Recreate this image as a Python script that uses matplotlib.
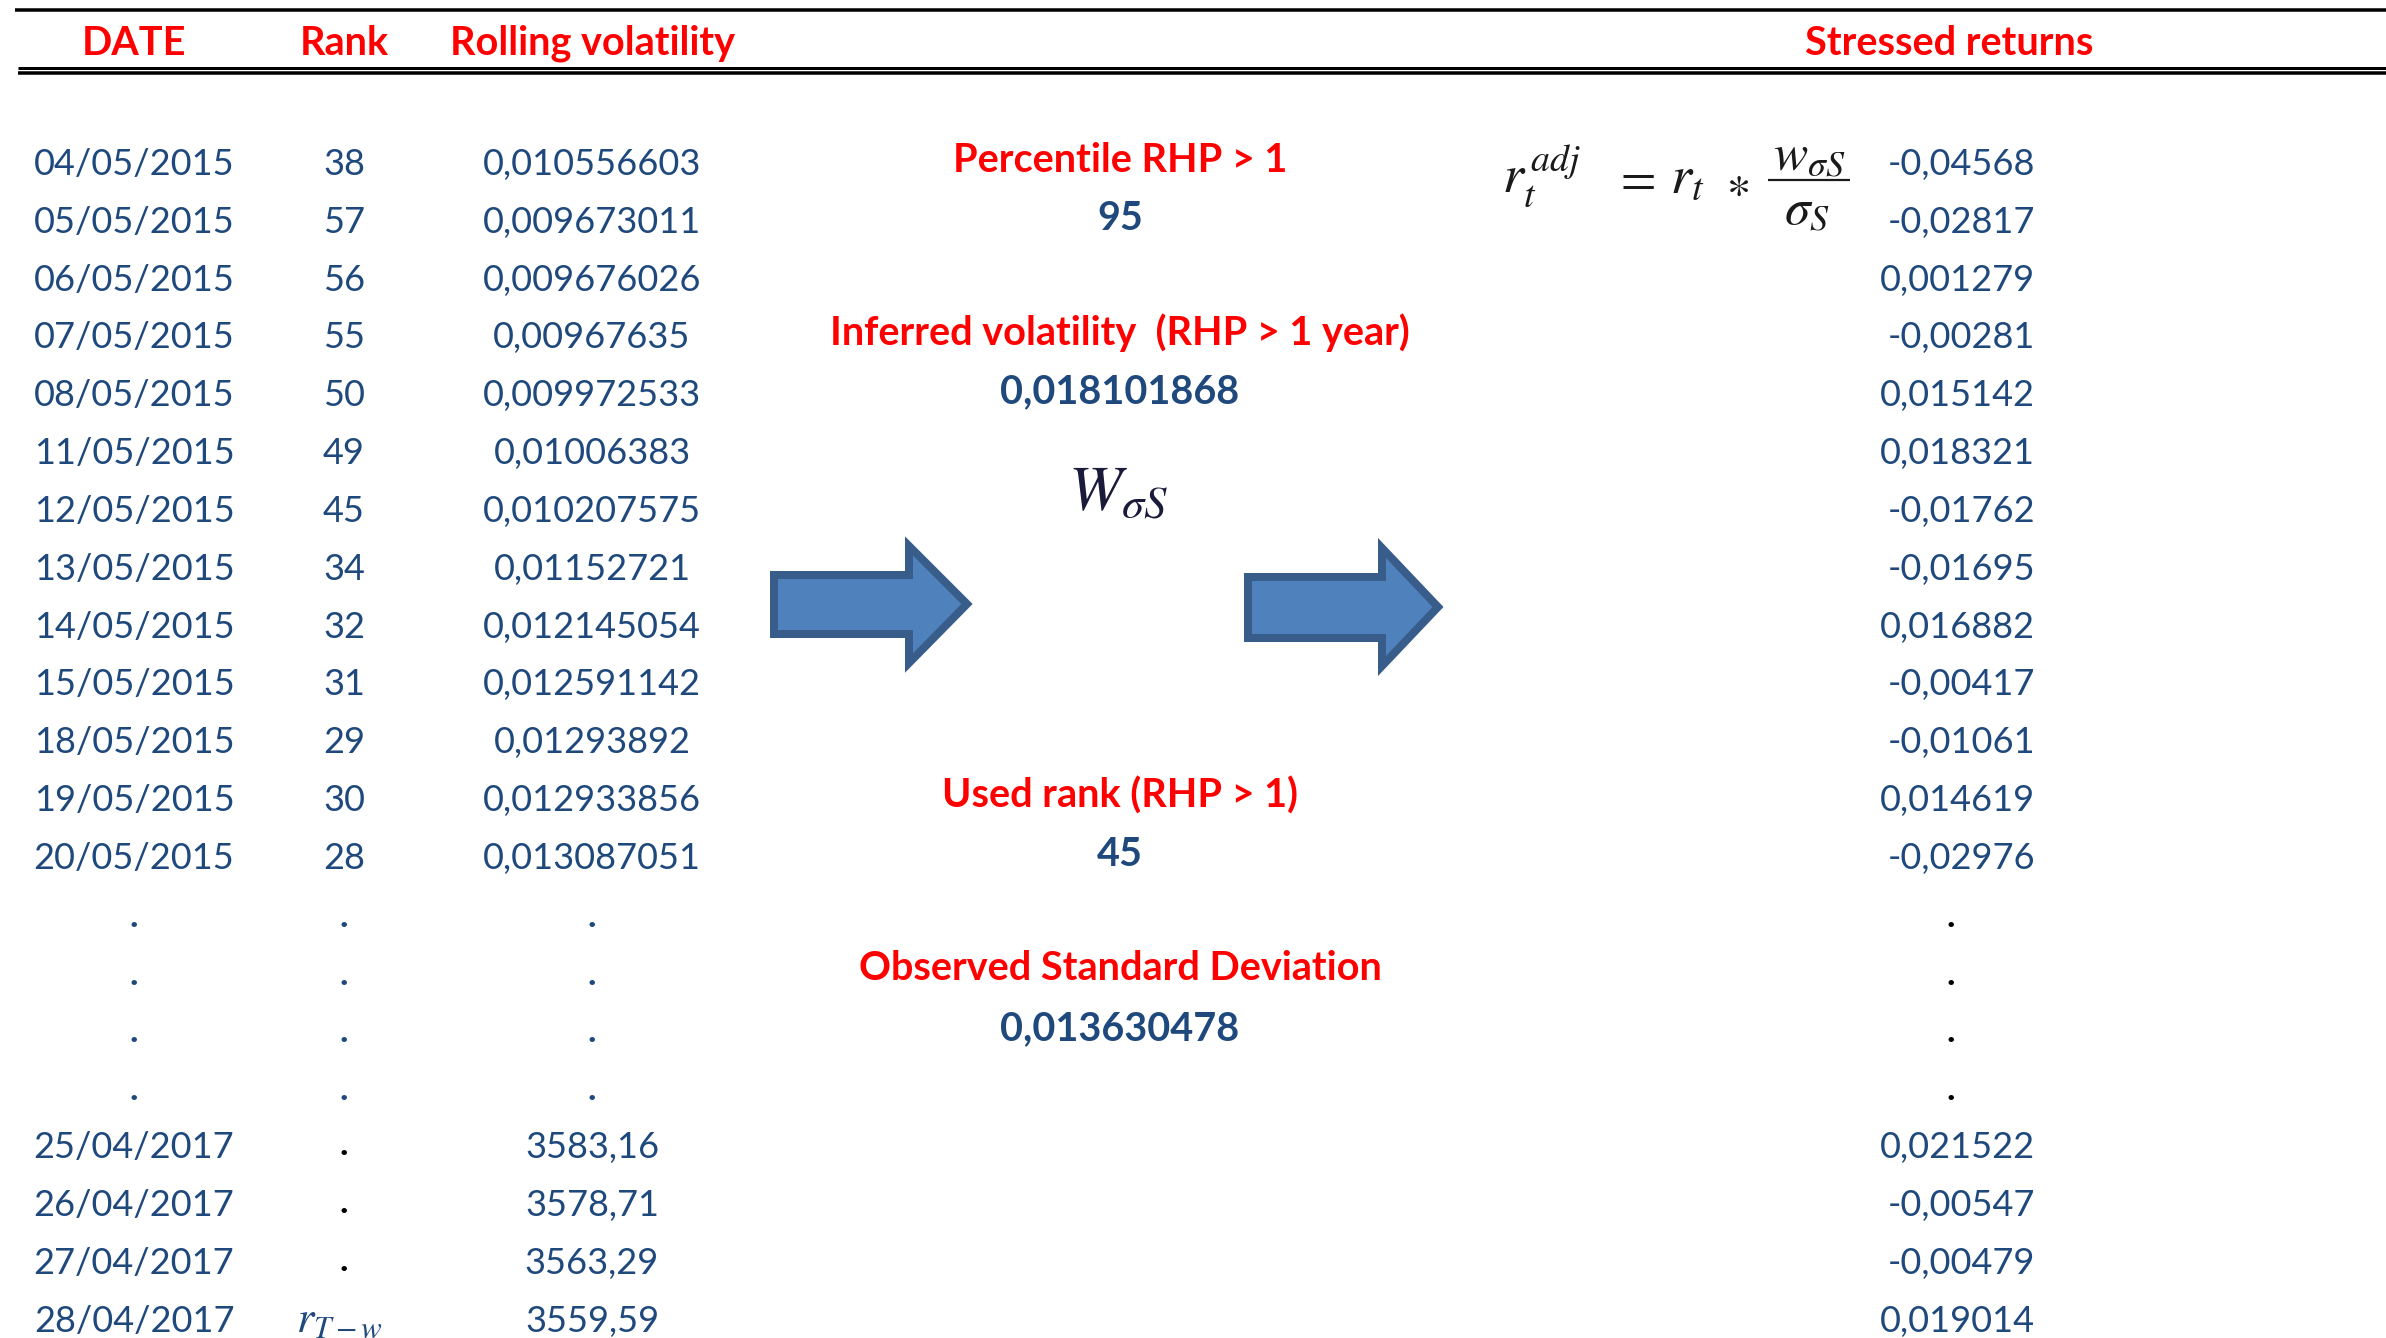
import matplotlib
matplotlib.use("Agg")
import matplotlib.pyplot as plt
from matplotlib.patches import Polygon

plt.rcParams['font.family'] = ['Lato', 'DejaVu Sans']
plt.rcParams['mathtext.fontset'] = 'stix'

# ---------------- data ----------------
headers = ["DATE", "Rank", "Rolling volatility", "Stressed returns"]

dates_top = ["04/05/2015", "05/05/2015", "06/05/2015", "07/05/2015", "08/05/2015",
             "11/05/2015", "12/05/2015", "13/05/2015", "14/05/2015", "15/05/2015",
             "18/05/2015", "19/05/2015", "20/05/2015"]
ranks_top = ["38", "57", "56", "55", "50", "49", "45", "34", "32", "31", "29", "30", "28"]
rolling_top = ["0,010556603", "0,009673011", "0,009676026", "0,00967635", "0,009972533",
               "0,01006383", "0,010207575", "0,01152721", "0,012145054", "0,012591142",
               "0,01293892", "0,012933856", "0,013087051"]
stressed_top = ["-0,04568", "-0,02817", "0,001279", "-0,00281", "0,015142", "0,018321",
                "-0,01762", "-0,01695", "0,016882", "-0,00417", "-0,01061", "0,014619",
                "-0,02976"]

n_ellipsis_rows = 4

dates_bottom = ["25/04/2017", "26/04/2017", "27/04/2017", "28/04/2017"]
ranks_bottom = [".", ".", ".", r"$r_{T-w}$"]
rolling_bottom = ["3583,16", "3578,71", "3563,29", "3559,59"]
stressed_bottom = ["0,021522", "-0,00547", "-0,00479", "0,019014"]

mid_labels = ["Percentile RHP > 1", "Inferred volatility  (RHP > 1 year)",
              "Used rank (RHP > 1)", "Observed Standard Deviation"]
mid_values = ["95", "0,018101868", "45", "0,013630478"]

formula_lhs = r"$r_t^{\,adj}$"
formula_eq = r"$=$"
formula_rt = r"$r_t$"
formula_star = r"$\ast$"
formula_num = r"$w_{\sigma S}$"
formula_den = r"$\sigma_S$"
w_symbol = r"$W_{\sigma S}$"

# ---------------- style ----------------
BLUE = "#1f497d"
RED = "#ff0000"
FS = 26
FSB = 28.5
MATH_C = "#1a1a1a"

W, H = 2386, 1338
fig = plt.figure(figsize=(W / 100, H / 100), dpi=100)
ax = fig.add_axes([0, 0, 1, 1])
ax.set_xlim(0, W)
ax.set_ylim(H, 0)
ax.axis('off')

# rules
lw = 3.5 * 72 / 100
ax.plot([15, W], [9.5, 9.5], color="black", lw=lw, solid_capstyle='butt')
ax.plot([18, W], [67.5, 67.5], color="black", lw=3 * 72 / 100, solid_capstyle='butt')
ax.plot([18, W], [73, 73], color="black", lw=lw, solid_capstyle='butt')

# headers
col_x = [134, 344, 592, 1949]
for x, h in zip(col_x, headers):
    ax.text(x, 55, h, color=RED, fontsize=FSB, fontweight='bold', ha='center', va='baseline')

# rows
base0, step = 175, 57.83
x_date, x_rank, x_roll, x_str_right, x_str_dot = 134, 344, 592, 2035, 1951

for i in range(len(dates_top)):
    y = base0 + i * step
    ax.text(x_date, y, dates_top[i], color=BLUE, fontsize=FS, ha='center', va='baseline')
    ax.text(x_rank, y, ranks_top[i], color=BLUE, fontsize=FS, ha='center', va='baseline')
    ax.text(x_roll, y, rolling_top[i], color=BLUE, fontsize=FS, ha='center', va='baseline')
    ax.text(x_str_right, y, stressed_top[i], color=BLUE, fontsize=FS, ha='right', va='baseline')

k0 = len(dates_top)
for j in range(n_ellipsis_rows):
    y = base0 + (k0 + j) * step
    for x in (x_date, x_rank, x_roll):
        ax.text(x, y, ".", color=BLUE, fontsize=FS, fontweight='bold', ha='center', va='baseline')
    ax.text(x_str_dot, y, ".", color="black", fontsize=FS, fontweight='bold', ha='center', va='baseline')

k1 = k0 + n_ellipsis_rows
for j in range(len(dates_bottom)):
    y = base0 + (k1 + j) * step
    ax.text(x_date, y, dates_bottom[j], color=BLUE, fontsize=FS, ha='center', va='baseline')
    if ranks_bottom[j].startswith("$"):
        ax.text(x_rank - 4, y + 1, ranks_bottom[j], color=BLUE, fontsize=32, ha='center', va='baseline')
    else:
        ax.text(x_rank, y - 3, ranks_bottom[j], color="black", fontsize=FS, fontweight='bold',
                ha='center', va='baseline')
    ax.text(x_roll, y, rolling_bottom[j], color=BLUE, fontsize=FS, ha='center', va='baseline')
    ax.text(x_str_right, y, stressed_bottom[j], color=BLUE, fontsize=FS, ha='right', va='baseline')

# middle block
x_mid = 1120
label_y = [172, 345, 808, 980]
value_y = [230, 403, 866, 1040]
for lab, val, ly, vy in zip(mid_labels, mid_values, label_y, value_y):
    ax.text(x_mid, ly, lab, color=RED, fontsize=FSB, fontweight='bold', ha='center', va='baseline')
    ax.text(x_mid, vy, val, color=BLUE, fontsize=FSB, fontweight='bold', ha='center', va='baseline')

ax.text(1118, 492, w_symbol, color="#1a1a3a", fontsize=46, ha='center', va='center')

# formula, built from pieces
FM = 39
ax.text(1502, 193, formula_lhs, color=MATH_C, fontsize=FM, ha='left', va='baseline')
ax.text(1634, 193, formula_eq, color=MATH_C, fontsize=FM - 2, ha='center', va='baseline')
ax.text(1670, 193, formula_rt, color=MATH_C, fontsize=FM, ha='left', va='baseline')
ax.text(1738, 197, formula_star, color=MATH_C, fontsize=FM - 6, ha='center', va='baseline')
ax.plot([1768, 1850], [180, 180], color=MATH_C, lw=2.2 * 72 / 100, solid_capstyle='butt')
ax.text(1809, 171, formula_num, color=MATH_C, fontsize=FM - 2, ha='center', va='baseline')
ax.text(1807, 225, formula_den, color=MATH_C, fontsize=FM - 2, ha='center', va='baseline')

# arrows
def arrow(x0, xb, xt, yb0, yb1, yh0, yh1, yt, inset=4):
    pts = [(x0 + inset, yb0 + inset), (xb + inset, yb0 + inset), (xb + inset, yh0 + inset * 2.5),
           (xt - inset * 1.5, yt), (xb + inset, yh1 - inset * 2.5), (xb + inset, yb1 - inset),
           (x0 + inset, yb1 - inset)]
    ax.add_patch(Polygon(pts, closed=True, facecolor="#4f81bd", edgecolor="#385d8a",
                         lw=8 * 72 / 100, joinstyle='miter'))

arrow(770, 905, 973, 571, 638, 536, 673, 604)
arrow(1244, 1378, 1444, 573, 642, 538, 676, 607)

fig.savefig("out.png", dpi=100)
